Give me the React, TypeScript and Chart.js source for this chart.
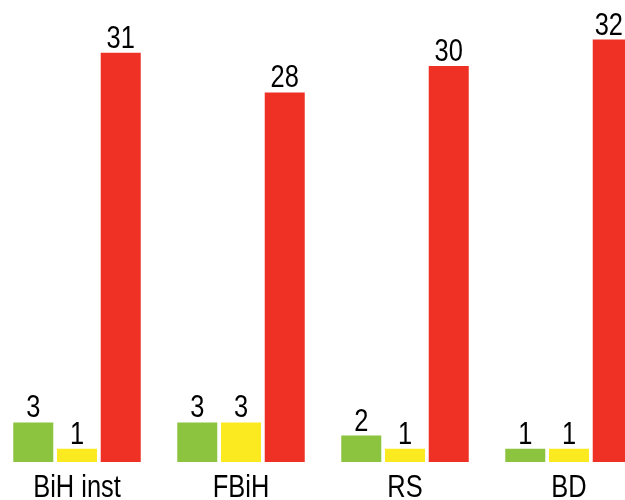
import React, { useEffect, useRef } from 'react';
import { Chart, registerables } from 'chart.js';

Chart.register(...registerables);

// data
const categories = ['BiH inst', 'FBiH', 'RS', 'BD'];
const greenValues = [3, 3, 2, 1];
const yellowValues = [1, 3, 1, 1];
const redValues = [31, 28, 30, 32];

const FONT = "'Liberation Sans', Arial, sans-serif";
const NARROW = 0.82; // squeeze Liberation Sans to look like Arial Narrow
const CANVAS_SHIFT = 5; // canvas sits 5px left of the page edge
const VISIBLE_RIGHT = 625 + CANVAS_SHIFT - 2;

const drawNarrow = (ctx: CanvasRenderingContext2D, text: string, x: number, y: number) => {
  const half = (ctx.measureText(text).width * NARROW) / 2;
  const cx = Math.min(x, VISIBLE_RIGHT - half);
  ctx.save();
  ctx.translate(cx, y);
  ctx.scale(NARROW, 1);
  ctx.fillText(text, 0, 0);
  ctx.restore();
};

// value above each bar + category names under the groups
const narrowLabels = {
  id: 'narrowLabels',
  afterDatasetsDraw(chart: any) {
    const ctx = chart.ctx;
    ctx.save();
    ctx.font = `31px ${FONT}`;
    ctx.fillStyle = '#000';
    ctx.textAlign = 'center';
    ctx.textBaseline = 'alphabetic';
    chart.data.datasets.forEach((ds: any, i: number) => {
      const meta = chart.getDatasetMeta(i);
      meta.data.forEach((el: any, j: number) => {
        drawNarrow(ctx, String(ds.data[j]), el.x, el.y - 5);
      });
    });
    const xScale = chart.scales.x;
    chart.data.labels.forEach((lab: string, i: number) => {
      drawNarrow(ctx, lab, xScale.getPixelForTick(i), xScale.top + 35);
    });
    ctx.restore();
  },
};

const App = () => {
  const canvasRef = useRef<HTMLCanvasElement>(null);
  const chartRef = useRef<Chart | null>(null);

  useEffect(() => {
    if (!canvasRef.current) return;
    if (chartRef.current) chartRef.current.destroy();

    chartRef.current = new Chart(canvasRef.current, {
      type: 'bar',
      data: {
        labels: categories,
        datasets: [
          { data: greenValues, backgroundColor: '#8CC43F' },
          { data: yellowValues, backgroundColor: '#FCEA20' },
          { data: redValues, backgroundColor: '#EE3124' },
        ],
      },
      options: {
        responsive: false,
        animation: false,
        devicePixelRatio: 1,
        layout: { padding: 0 },
        datasets: {
          bar: { categoryPercentage: 0.8, barPercentage: 0.915 },
        },
        plugins: {
          legend: { display: false },
          tooltip: { enabled: false },
        },
        scales: {
          x: {
            grid: { display: false, drawTicks: false },
            border: { display: false },
            ticks: { display: false },
            afterFit: (scale: any) => {
              scale.height = 38;
            },
          },
          y: {
            display: false,
            min: 0,
            max: 35,
          },
        },
      },
      plugins: [narrowLabels],
    });

    return () => {
      if (chartRef.current) {
        chartRef.current.destroy();
        chartRef.current = null;
      }
    };
  }, []);

  return (
    <div
      style={{
        position: 'fixed',
        left: 0,
        top: 0,
        width: 625,
        height: 500,
        overflow: 'hidden',
        background: '#fff',
      }}
    >
      <canvas
        ref={canvasRef}
        width={656}
        height={500}
        style={{ position: 'absolute', left: -CANVAS_SHIFT, top: 0, width: 656, height: 500 }}
      />
    </div>
  );
};

export default App;
